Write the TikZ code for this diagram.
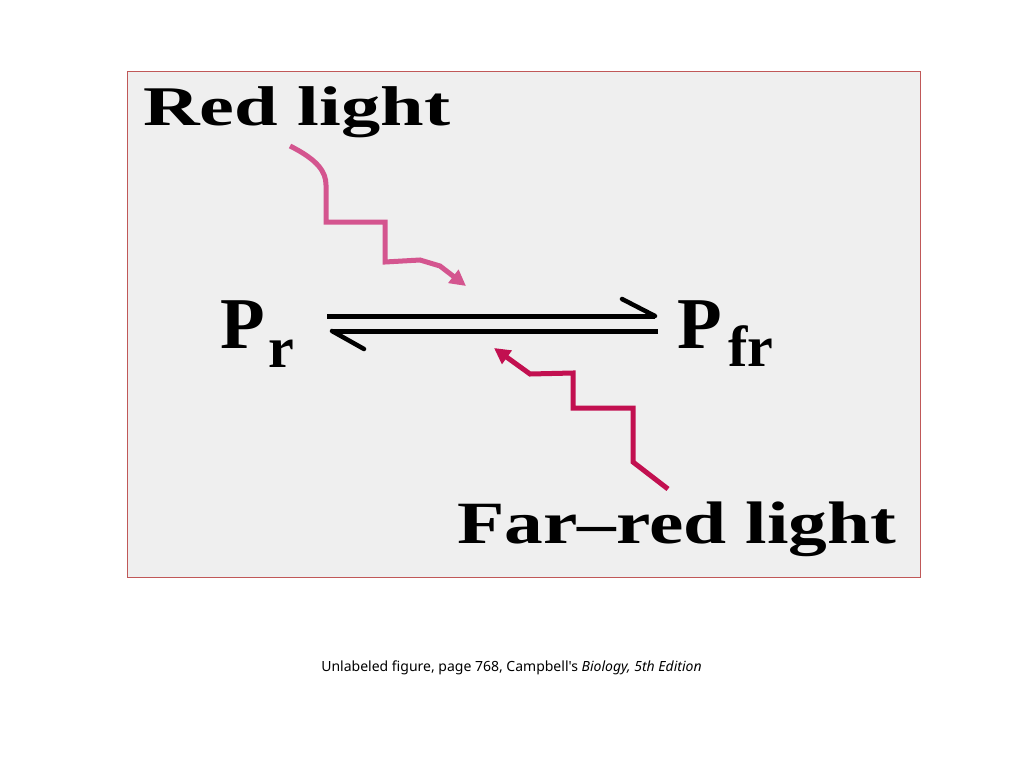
\documentclass[tikz,border=0pt]{standalone}
\usepackage{fontspec}
\setmainfont{Liberation Serif}
\newfontfamily\capfont{Noto Sans}
\usetikzlibrary{arrows.meta}
\definecolor{boxfill}{HTML}{EFEFEF}
\definecolor{boxline}{HTML}{C05858}
\definecolor{redlt}{HTML}{D4558F}
\definecolor{farred}{HTML}{C21050}
\tikzset{
  lbl/.style={inner sep=0pt, anchor=base west, font=\bfseries},
  wave/.style={line width=5pt, line join=miter, line cap=butt},
  eqline/.style={line width=5pt, black, line cap=butt},
  barb/.style={line width=4.5pt, black, line cap=round}
}
\begin{document}
\begin{tikzpicture}[x=1pt,y=-1pt]
\useasboundingbox (0,0) rectangle (1024,768);
\fill[white] (0,0) rectangle (1024,768);
\draw[boxline, fill=boxfill, line width=0.8pt] (127,71) rectangle (920,577);
% labels
\node[lbl] (red) at (143,125) {\fontsize{56}{60}\selectfont\scalebox{1.4}[1]{Red light}};
\node[lbl] (far) at (457,543) {\fontsize{60}{64}\selectfont\scalebox{1.29}[1]{Far\textendash red light}};
\node[lbl] (pr) at (220,348) {\fontsize{73}{76}\selectfont P};
\node[lbl] (prs) at (268,367) {\fontsize{58}{60}\selectfont r};
\node[lbl] (pfr) at (677,348) {\fontsize{73}{76}\selectfont P};
\node[lbl] (pfrs) at (728,366) {\fontsize{58}{60}\selectfont fr};
% equilibrium arrows
\coordinate (a1) at (327,316);
\coordinate (a2) at (655,316);
\coordinate (a3) at (622,299);
\coordinate (b1) at (658,331);
\coordinate (b2) at (332,331);
\coordinate (b3) at (364,349);
\draw[eqline] (a1) -- (a2);
\draw[barb] (a3) -- (a2);
\draw[eqline] (b1) -- (b2);
\draw[barb] (b3) -- (b2);
% red light wave
\draw[wave, redlt, -{Triangle[length=16pt,width=16pt]}]
  (290,146) .. controls (318,160) and (326,172) .. (326,185)
  -- (326,222) -- (385,222) -- (385,262) -- (420,260) -- (440,266) -- (466,286);
% far-red light wave
\draw[wave, farred, -{Triangle[length=16pt,width=16pt]}]
  (668,489) -- (633,462) -- (633,408) -- (573,408) -- (573,373) -- (530,374) -- (494,348);
% caption
\node[inner sep=0pt, anchor=base] (cap) at (511.5,671) {\capfont\fontsize{14}{16}\selectfont Unlabeled figure, page 768, Campbell's \textit{Biology, 5th Edition}};
\end{tikzpicture}
\end{document}
